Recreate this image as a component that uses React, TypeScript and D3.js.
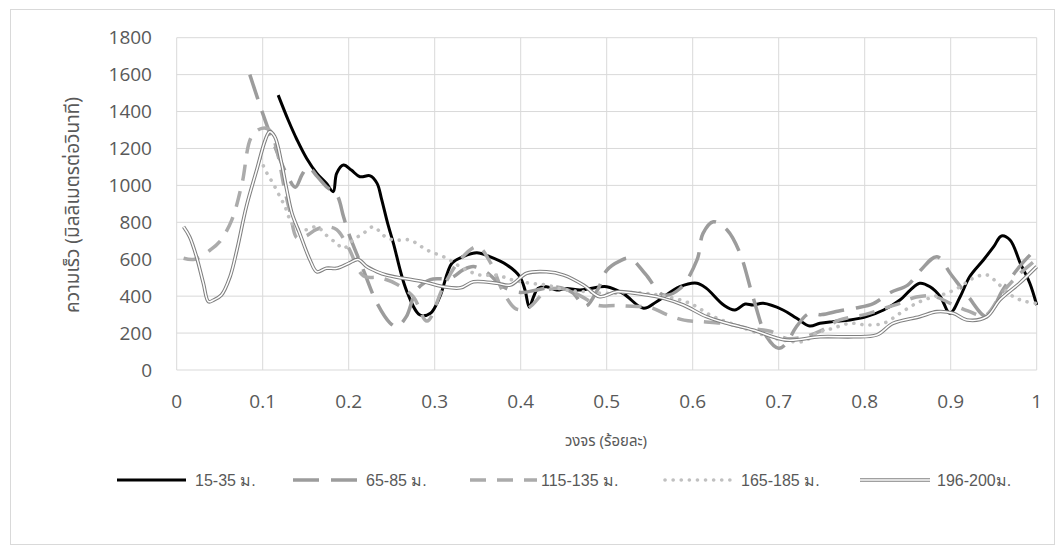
import React from "react";
import * as d3 from "d3";

// Cycle position (0–1) and speed (mm/s) for each depth band
const cycle15 = [0.118,0.13,0.14,0.151,0.163,0.174,0.182,0.186,0.194,0.203,0.213,0.225,0.233,0.238,0.245,0.252,0.267,0.283,0.295,0.306,0.32,0.333,0.349,0.364,0.384,0.399,0.405,0.41,0.415,0.42,0.43,0.442,0.453,0.469,0.481,0.5,0.519,0.543,0.558,0.585,0.605,0.616,0.636,0.649,0.661,0.67,0.682,0.705,0.721,0.736,0.748,0.763,0.783,0.802,0.822,0.841,0.853,0.864,0.876,0.888,0.899,0.911,0.922,0.938,0.95,0.959,0.969,0.981,0.992,1.0];
const speed15 = [1489,1350,1246,1147,1065,1011,966,1065,1110,1083,1047,1052,1011,930,800,686,433,298,307,397,578,614,635,614,569,505,433,340,397,442,451,433,442,433,442,451,415,334,370,451,470,442,352,325,357,352,361,325,280,238,253,262,271,289,325,379,433,470,451,397,307,397,505,596,668,726,704,578,470,352];

const cycle65 = [0.085,0.1,0.115,0.128,0.138,0.146,0.153,0.163,0.174,0.186,0.194,0.2,0.217,0.233,0.248,0.256,0.267,0.279,0.295,0.318,0.333,0.345,0.36,0.38,0.4,0.42,0.44,0.46,0.475,0.49,0.5,0.515,0.527,0.545,0.566,0.585,0.605,0.612,0.624,0.64,0.655,0.67,0.686,0.7,0.709,0.72,0.735,0.75,0.77,0.79,0.81,0.83,0.85,0.865,0.884,0.9,0.92,0.942,0.96,0.98,1.0];
const speed65 = [1600,1390,1200,1060,990,1060,1100,1050,993,950,830,740,542,361,255,235,289,433,490,497,542,560,530,450,420,435,450,420,345,440,540,590,605,520,406,440,596,740,803,758,632,397,180,118,145,230,305,300,320,336,360,420,460,540,614,520,400,289,430,560,660];

const cycle115 = [0.008,0.021,0.039,0.05,0.064,0.076,0.087,0.099,0.108,0.116,0.125,0.132,0.14,0.15,0.162,0.174,0.186,0.2,0.217,0.236,0.256,0.275,0.291,0.31,0.33,0.35,0.365,0.38,0.395,0.41,0.43,0.45,0.47,0.49,0.51,0.53,0.55,0.57,0.59,0.61,0.64,0.66,0.69,0.71,0.73,0.75,0.77,0.8,0.82,0.84,0.86,0.88,0.9,0.92,0.94,0.96,0.98,1.0];
const speed115 = [605,600,650,695,812,1011,1264,1309,1300,1200,990,850,715,725,760,776,760,660,510,500,465,397,265,450,600,668,580,420,330,340,430,440,400,350,350,345,340,300,270,262,250,230,210,170,180,215,270,300,330,360,395,400,360,320,295,420,520,600];

const cycle165 = [0.097,0.105,0.112,0.12,0.126,0.132,0.14,0.151,0.163,0.174,0.186,0.194,0.205,0.217,0.229,0.24,0.252,0.271,0.291,0.314,0.333,0.353,0.372,0.391,0.411,0.43,0.453,0.477,0.5,0.525,0.547,0.57,0.597,0.624,0.655,0.682,0.705,0.729,0.744,0.763,0.783,0.802,0.822,0.841,0.86,0.88,0.895,0.911,0.926,0.942,0.957,0.973,0.988,1.0];
const speed165 = [1146,1065,1011,939,885,812,765,760,776,730,686,659,704,740,776,730,704,704,650,605,551,514,514,487,470,460,433,424,415,420,415,397,361,289,235,190,162,155,199,226,253,244,253,307,361,397,415,451,497,515,460,397,370,361];

const cycle196 = [0.008,0.015,0.023,0.031,0.037,0.043,0.052,0.062,0.07,0.081,0.093,0.103,0.108,0.114,0.122,0.128,0.134,0.143,0.155,0.163,0.174,0.186,0.2,0.211,0.221,0.233,0.244,0.263,0.287,0.31,0.33,0.345,0.372,0.388,0.407,0.43,0.45,0.473,0.492,0.512,0.547,0.566,0.589,0.616,0.64,0.67,0.709,0.748,0.787,0.814,0.833,0.864,0.884,0.903,0.919,0.942,0.957,0.98,1.0];
const speed196 = [776,722,614,470,370,379,406,505,650,885,1083,1246,1291,1264,1119,975,849,740,596,532,551,551,578,599,560,532,514,497,478,451,445,478,470,460,524,532,514,460,397,424,406,388,352,289,253,217,162,180,180,190,253,289,316,307,271,289,379,470,560];

const seriesNames = ["15-35 ม.", "65-85 ม.", "115-135 ม.", "165-185 ม.", "196-200ม."];
const xTicks = [0, 0.1, 0.2, 0.3, 0.4, 0.5, 0.6, 0.7, 0.8, 0.9, 1];
const yTicks = [0, 200, 400, 600, 800, 1000, 1200, 1400, 1600, 1800];
const xTitle = "วงจร (ร้อยละ)";
const yTitle = "ความเร็ว (มิลลิเมตรต่อวินาที)";

type Style = { color: string; width: number; dash?: string; cap?: "round" | "butt"; double?: boolean };

const styles: Style[] = [
  { color: "#000000", width: 3 },
  { color: "#9c9c9c", width: 3.5, dash: "26 12" },
  { color: "#ababab", width: 3.5, dash: "16 11" },
  { color: "#c0c0c0", width: 3.6, dash: "0.1 8", cap: "round" },
  { color: "#808080", width: 3.6, double: true },
];

const tickFont = '"Open Sans", "Noto Sans", sans-serif';
const thaiFont = '"Noto Sans Thai", Tahoma, "Liberation Sans", sans-serif';
const legendFont = '"Liberation Sans", Arial, sans-serif';

export default function App() {
  const x = d3.scaleLinear().domain([0, 1]).range([176.7, 1036.7]);
  const y = d3.scaleLinear().domain([0, 1800]).range([370, 37.7]);

  const series = [
    [cycle15, speed15],
    [cycle65, speed65],
    [cycle115, speed115],
    [cycle165, speed165],
    [cycle196, speed196],
  ].map(([cs, vs]) => cs.map((c, i) => [c, vs[i]] as [number, number]));

  const line = d3
    .line<[number, number]>()
    .x((d) => x(d[0]))
    .y((d) => y(d[1]))
    .curve(d3.curveCatmullRom.alpha(0.5));

  const drawPath = (d: string, s: Style, key: string) =>
    s.double ? (
      <g key={key}>
        <path d={d} fill="none" stroke={s.color} strokeWidth={s.width} strokeLinejoin="round" />
        <path d={d} fill="none" stroke="#ffffff" strokeWidth={1.5} strokeLinejoin="round" />
      </g>
    ) : (
      <path
        key={key}
        d={d}
        fill="none"
        stroke={s.color}
        strokeWidth={s.width}
        strokeDasharray={s.dash}
        strokeLinecap={s.cap ?? "butt"}
        strokeLinejoin="round"
      />
    );

  const legendItems = [
    { x1: 117, x2: 186, tx: 195 },
    { x1: 293, x2: 363, tx: 366 },
    { x1: 470, x2: 537, tx: 541 },
    { x1: 665, x2: 734, tx: 741 },
    { x1: 860, x2: 930, tx: 937 },
  ];
  const legendY = 480;

  return (
    <svg
      width={1064}
      height={554}
      style={{ position: "absolute", left: 0, top: 0, background: "#ffffff" }}
    >
      <rect x={10.5} y={9.5} width={1044} height={535} fill="#ffffff" stroke="#d9d9d9" strokeWidth={1} />

      {/* grid */}
      {yTicks.map((t) => (
        <line key={"gy" + t} x1={x(0)} x2={x(1)} y1={y(t)} y2={y(t)} stroke="#d9d9d9" strokeWidth={1} />
      ))}
      {xTicks.map((t) => (
        <line key={"gx" + t} x1={x(t)} x2={x(t)} y1={y(0)} y2={y(1800)} stroke="#d9d9d9" strokeWidth={1} />
      ))}

      {/* y tick labels */}
      {yTicks.map((t) => (
        <text
          key={"ty" + t}
          x={152}
          y={y(t)}
          dy="0.35em"
          textAnchor="end"
          fontFamily={tickFont}
          fontSize={19}
          fill="#595959"
        >
          {t}
        </text>
      ))}
      {/* x tick labels */}
      {xTicks.map((t) => (
        <text
          key={"tx" + t}
          x={x(t)}
          y={401}
          dy="0.35em"
          textAnchor="middle"
          fontFamily={tickFont}
          fontSize={19}
          fill="#595959"
        >
          {String(t)}
        </text>
      ))}

      <text x={606} y={441} dy="0.35em" textAnchor="middle" fontFamily={thaiFont} fontSize={15} fill="#595959">
        {xTitle}
      </text>
      <text
        transform="translate(72,205) rotate(-90)"
        textAnchor="middle"
        dy="0.35em"
        fontFamily={thaiFont}
        fontSize={19}
        fill="#595959"
      >
        {yTitle}
      </text>

      {/* series */}
      {series.map((pts, i) => drawPath(line(pts) as string, styles[i], "s" + i))}

      {/* legend */}
      {legendItems.map((it, i) => (
        <g key={"lg" + i}>
          {drawPath(`M${it.x1},${legendY}L${it.x2},${legendY}`, styles[i], "lp" + i)}
          <text x={it.tx} y={legendY} dy="0.35em" fontFamily={legendFont} fontSize={16} fill="#595959">
            {seriesNames[i]}
          </text>
        </g>
      ))}
    </svg>
  );
}
